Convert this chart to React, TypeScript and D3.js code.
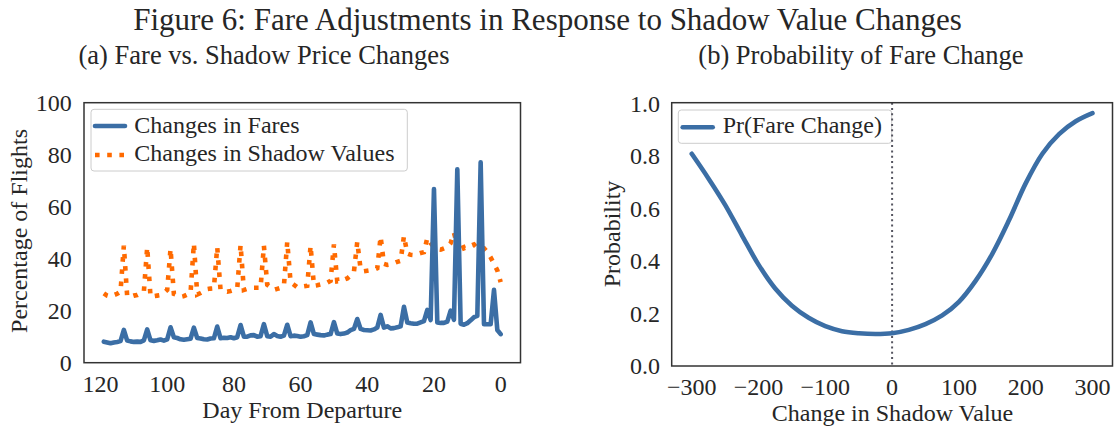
import React, { useEffect, useRef } from 'react';
import * as d3 from 'd3';

// (a) percentage of flights with a change, day 119 -> day 0 before departure
const fareChanges = [
  8.1, 7.8, 7.5, 7.8, 8.0, 8.3, 12.6,
  8.5, 8.2, 8.0, 8.1, 8.0, 8.6, 12.8,
  8.6, 8.4, 8.6, 8.9, 8.5, 9.0, 13.6,
  9.8, 9.5, 9.0, 8.8, 9.0, 9.2, 13.5,
  9.5, 9.3, 9.0, 8.9, 9.3, 9.4, 13.9,
  9.4, 9.6, 9.5, 9.8, 9.4, 9.8, 14.5,
  10.0, 10.0, 10.5, 10.6, 10.0, 10.2, 14.8,
  10.2, 10.0, 11.0, 10.3, 10.0, 10.4, 14.6,
  10.2, 10.4, 10.3, 10.0, 10.2, 10.6, 15.5,
  11.0, 10.8, 10.6, 10.5, 10.8, 11.0, 15.6,
  11.2, 11.0, 11.2, 11.6, 12.5, 13.0, 16.8,
  13.0, 12.6, 12.5, 12.4, 12.8, 13.5, 18.4,
  13.5, 14.0, 13.2, 13.3, 13.6, 14.0, 21.5,
  15.5, 15.2, 15.0, 15.0, 15.5, 16.0, 20.3, 16.4, 66.8,
  15.5, 15.3, 15.3, 15.8, 20.0, 16.5, 74.4,
  15.0, 14.6, 15.2, 16.3, 17.5, 18.0, 77.1,
  14.8, 14.8, 14.8, 28.0, 12.6, 11.0,
];

const shadowChanges = [
  26.7, 25.8, 25.4, 26.0, 26.5, 27.3, 45.0,
  25.5, 25.4, 25.8, 26.0, 26.6, 27.3, 44.4,
  25.4, 25.6, 25.8, 26.0, 26.8, 28.0, 43.8,
  26.5, 26.0, 25.3, 25.6, 26.2, 26.8, 45.9,
  26.2, 26.8, 27.5, 28.3, 28.5, 28.6, 44.5,
  28.0, 27.6, 27.3, 27.6, 28.0, 28.5, 45.3,
  28.0, 28.4, 28.7, 28.8, 28.8, 28.8, 45.0,
  30.0, 29.0, 28.0, 28.4, 28.8, 29.5, 46.5,
  31.0, 30.0, 29.0, 29.2, 29.4, 29.6, 45.0,
  29.6, 29.8, 30.1, 30.5, 30.8, 31.5, 45.5,
  31.3, 31.5, 31.9, 32.4, 33.5, 35.0, 46.5,
  36.0, 35.2, 35.4, 35.6, 35.7, 36.3, 48.5,
  38.0, 37.6, 37.8, 38.3, 38.8, 39.2, 48.7,
  42.0, 41.5, 41.4, 41.8, 42.2, 42.5, 48.0, 46.0, 44.5,
  43.7, 43.5, 44.0, 44.5, 46.0, 50.0, 45.0,
  47.0, 44.0, 44.5, 45.0, 45.5, 44.0, 44.0,
  44.0, 42.5, 40.5, 38.0, 35.5, 31.0,
];

const days = fareChanges.map((_, i) => 119 - i);
const dayTicks = [120, 100, 80, 60, 40, 20, 0];
const pctTicks = [0, 20, 40, 60, 80, 100];

// (b) probability of a fare change vs change in shadow value
const shadowDelta = [-300, -275, -250, -225, -200, -175, -150, -125, -100, -75, -50, -25, 0,
  25, 50, 75, 100, 125, 150, 175, 200, 225, 250, 275, 300];
const probFareChange = [0.81, 0.716, 0.615, 0.50, 0.387, 0.296, 0.23, 0.184, 0.152, 0.133, 0.125, 0.122, 0.125,
  0.138, 0.16, 0.193, 0.245, 0.325, 0.428, 0.556, 0.697, 0.81, 0.885, 0.934, 0.965];
const deltaTicks = [-300, -200, -100, 0, 100, 200, 300];
const probTicks = [0, 0.2, 0.4, 0.6, 0.8, 1.0];

const BLUE = '#3b6ea5';
const ORANGE = '#ff6a00';
const INK = '#262626';
const FONT = '"Liberation Serif", "Times New Roman", serif';

const App = () => {
  const ref = useRef<SVGSVGElement>(null);

  useEffect(() => {
    if (!ref.current) return;
    const svg = d3.select(ref.current);
    svg.selectAll('*').remove();
    svg.attr('font-family', FONT).attr('fill', INK);

    // titles
    svg.append('text').attr('x', 547.5).attr('y', 30).attr('text-anchor', 'middle')
      .attr('font-size', 31).text('Figure 6: Fare Adjustments in Response to Shadow Value Changes');
    svg.append('text').attr('x', 264).attr('y', 64).attr('text-anchor', 'middle')
      .attr('font-size', 26.5).text('(a) Fare vs. Shadow Price Changes');
    svg.append('text').attr('x', 861).attr('y', 64).attr('text-anchor', 'middle')
      .attr('font-size', 26.5).text('(b) Probability of Fare Change');

    // ---------- panel (a) ----------
    const xA = d3.scaleLinear().domain([124.95, -5.95]).range([84, 520.5]);
    const yA = d3.scaleLinear().domain([0, 100]).range([362.7, 102.7]);
    const gA = svg.append('g');

    const lineA = d3.line<number>().x((_, i) => xA(days[i])).y(d => yA(d));

    gA.append('path').datum(shadowChanges)
      .attr('fill', 'none').attr('stroke', ORANGE).attr('stroke-width', 4.6)
      .attr('stroke-dasharray', '4.6 7.6').attr('d', lineA);
    gA.append('path').datum(fareChanges)
      .attr('fill', 'none').attr('stroke', BLUE).attr('stroke-width', 4.6)
      .attr('stroke-linejoin', 'round').attr('stroke-linecap', 'round').attr('d', lineA);

    gA.append('rect').attr('x', 84).attr('y', 102.7).attr('width', 436.5).attr('height', 260)
      .attr('fill', 'none').attr('stroke', '#333').attr('stroke-width', 1.5);

    gA.selectAll('.ytick').data(pctTicks).enter().append('text')
      .attr('x', 71.7).attr('y', d => yA(d) + 8).attr('text-anchor', 'end')
      .attr('font-size', 24).text(d => d);
    gA.selectAll('.xtick').data(dayTicks).enter().append('text')
      .attr('x', d => xA(d)).attr('y', 391.7).attr('text-anchor', 'middle')
      .attr('font-size', 24).text(d => d);
    gA.append('text').attr('x', 302.3).attr('y', 418).attr('text-anchor', 'middle')
      .attr('font-size', 24).text('Day From Departure');
    gA.append('text').attr('transform', 'translate(26.7,231) rotate(-90)')
      .attr('text-anchor', 'middle').attr('font-size', 24).text('Percentage of Flights');

    // legend (a)
    const legA = gA.append('g');
    legA.append('rect').attr('x', 91).attr('y', 109.3).attr('width', 316.3).attr('height', 61.7)
      .attr('rx', 3).attr('fill', 'white').attr('fill-opacity', 0.8).attr('stroke', '#cccccc');
    legA.append('line').attr('x1', 95).attr('x2', 125).attr('y1', 126).attr('y2', 126)
      .attr('stroke', BLUE).attr('stroke-width', 4.6).attr('stroke-linecap', 'round');
    legA.append('text').attr('x', 134.3).attr('y', 132.7).attr('font-size', 24).text('Changes in Fares');
    legA.append('line').attr('x1', 95).attr('x2', 127).attr('y1', 155).attr('y2', 155)
      .attr('stroke', ORANGE).attr('stroke-width', 4.6).attr('stroke-dasharray', '4.6 7.6');
    legA.append('text').attr('x', 134.3).attr('y', 161.3).attr('font-size', 24).text('Changes in Shadow Values');

    // ---------- panel (b) ----------
    const xB = d3.scaleLinear().domain([-330, 330]).range([671.7, 1112.5]);
    const yB = d3.scaleLinear().domain([0, 1.005]).range([366, 102.7]);
    const gB = svg.append('g');

    const lineB = d3.line<number>().x((_, i) => xB(shadowDelta[i])).y(d => yB(d)).curve(d3.curveCatmullRom);

    // legend (b)
    const legB = gB.append('g');
    legB.append('rect').attr('x', 678.3).attr('y', 110).attr('width', 213.4).attr('height', 33.3)
      .attr('rx', 3).attr('fill', 'white').attr('fill-opacity', 0.8).attr('stroke', '#cccccc');
    legB.append('line').attr('x1', 682.7).attr('x2', 712.7).attr('y1', 127.3).attr('y2', 127.3)
      .attr('stroke', BLUE).attr('stroke-width', 4.6).attr('stroke-linecap', 'round');
    legB.append('text').attr('x', 722.7).attr('y', 133).attr('font-size', 24).text('Pr(Fare Change)');

    gB.append('line').attr('x1', xB(0)).attr('x2', xB(0)).attr('y1', 102.7).attr('y2', 366)
      .attr('stroke', '#555560').attr('stroke-width', 2).attr('stroke-dasharray', '2 3.3');

    gB.append('path').datum(probFareChange)
      .attr('fill', 'none').attr('stroke', BLUE).attr('stroke-width', 4.6)
      .attr('stroke-linejoin', 'round').attr('stroke-linecap', 'round').attr('d', lineB);

    gB.append('rect').attr('x', 671.7).attr('y', 102.7).attr('width', 440.8).attr('height', 263.3)
      .attr('fill', 'none').attr('stroke', '#333').attr('stroke-width', 1.5);

    gB.selectAll('.ytick').data(probTicks).enter().append('text')
      .attr('x', 660).attr('y', d => yB(d) + 8).attr('text-anchor', 'end')
      .attr('font-size', 24).text(d => d.toFixed(1));
    gB.selectAll('.xtick').data(deltaTicks).enter().append('text')
      .attr('x', d => xB(d)).attr('y', 395).attr('text-anchor', 'middle')
      .attr('font-size', 24).text(d => (d < 0 ? '\u2212' + Math.abs(d) : String(d)));
    gB.append('text').attr('x', 892.5).attr('y', 421).attr('text-anchor', 'middle')
      .attr('font-size', 24).text('Change in Shadow Value');
    gB.append('text').attr('transform', 'translate(620,234) rotate(-90)')
      .attr('text-anchor', 'middle').attr('font-size', 24).text('Probability');
  }, []);

  return (
    <svg ref={ref} width={1116} height={428}
      style={{ position: 'absolute', left: 0, top: 0, background: 'white' }} />
  );
};

export default App;
